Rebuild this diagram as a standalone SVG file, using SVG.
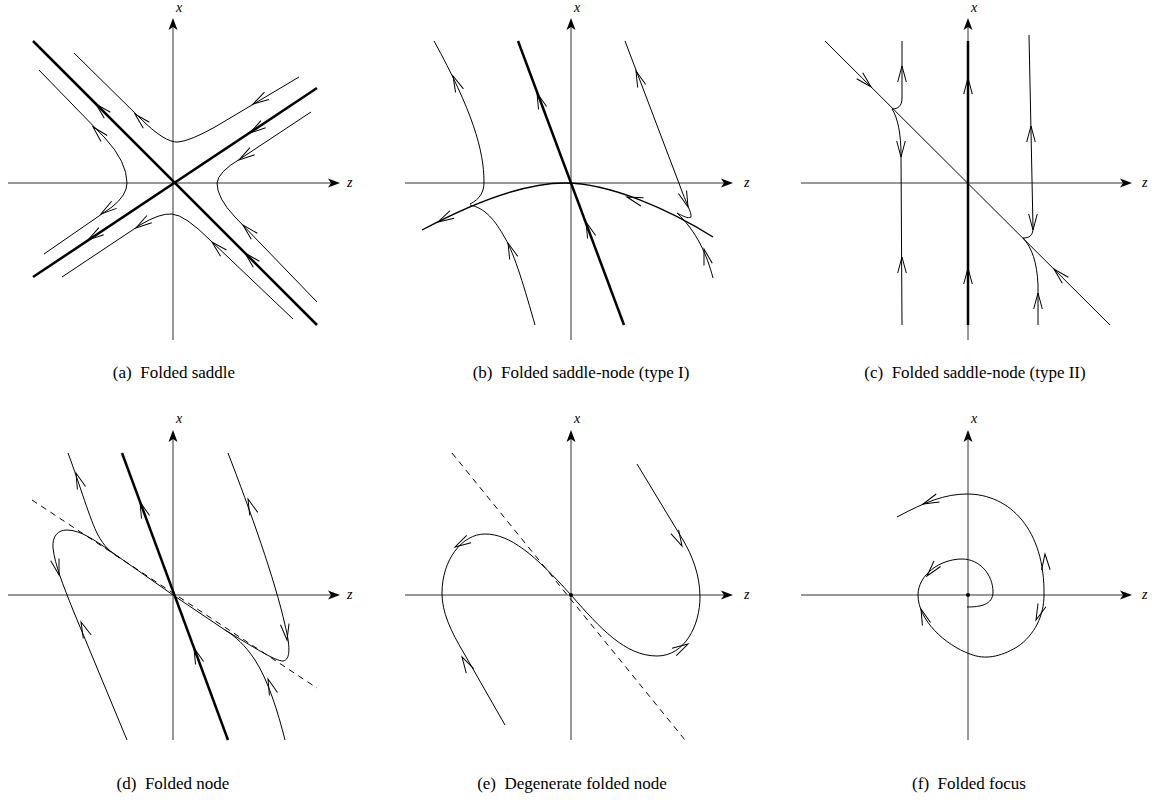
<svg xmlns="http://www.w3.org/2000/svg" xmlns:xlink="http://www.w3.org/1999/xlink" width="1162" height="810" viewBox="0 0 1162 810">
<style>
.ax{stroke:#333;stroke-width:1;fill:none}
.th{stroke:#000;stroke-width:2.5;fill:none;stroke-linecap:butt}
.tn{stroke:#000;stroke-width:1;fill:none}
.md{stroke:#000;stroke-width:1.4;fill:none}
.ds{stroke:#000;stroke-width:1;fill:none;stroke-dasharray:6,5}
.lab{font-family:"Liberation Serif","DejaVu Serif",serif;font-style:italic;font-size:14px;fill:#000}
.cap{font-family:"Liberation Serif","DejaVu Serif",serif;font-size:17px;fill:#000;text-anchor:middle}
</style>
<defs>
<path id="ah" d="M-16,-4.3 L0,0 L-16,4.3" fill="none" stroke="#000" stroke-width="1"/>
<path id="axh" d="M0,0 L-12,-4.5 L-9,0 L-12,4.5 Z" fill="#000"/>
</defs>

<g id="panel-a">
<g class="axes">
<line class="ax" x1="173" y1="340" x2="173" y2="22"/>
<line class="ax" x1="8" y1="183" x2="336" y2="183"/>
<use xlink:href="#axh" transform="translate(173,18) rotate(-90)"/>
<use xlink:href="#axh" transform="translate(340,183)"/>
<text class="lab" x="176" y="12">x</text>
<text class="lab" x="347" y="187">z</text>
</g>
<path class="th" d="M33,41 L317,325"/>
<path class="th" d="M33,277 L317,88"/>
<path class="tn" d="M74,53 L140,118 Q165,143 178,142 Q190,141 215,127 L299,77"/>
<path class="tn" d="M62,277 L140,225 Q160,213 172,214 Q185,215 210,240 L293,319"/>
<path class="tn" d="M39,70 L105,138 Q127,162 127,183 Q127,195 112,207 L44,254"/>
<path class="tn" d="M311,112 L240,159 Q218,172 217,183 Q217,198 235,217 L317,302"/>
<use xlink:href="#ah" transform="translate(96,104) rotate(-135)"/>
<use xlink:href="#ah" transform="translate(245,253) rotate(-135)"/>
<use xlink:href="#ah" transform="translate(250,133) rotate(146.4)"/>
<use xlink:href="#ah" transform="translate(88,240) rotate(146.4)"/>
<use xlink:href="#ah" transform="translate(135,114) rotate(-135)"/>
<use xlink:href="#ah" transform="translate(253,104) rotate(149)"/>
<use xlink:href="#ah" transform="translate(93,127) rotate(-134)"/>
<use xlink:href="#ah" transform="translate(101,214) rotate(145)"/>
<use xlink:href="#ah" transform="translate(239,160) rotate(146.5)"/>
<use xlink:href="#ah" transform="translate(243,225) rotate(-135)"/>
<use xlink:href="#ah" transform="translate(136,228) rotate(146.3)"/>
<use xlink:href="#ah" transform="translate(212,242) rotate(-136)"/>
<text class="cap" x="174" y="378">(a)&#160; Folded saddle</text>
</g>

<g id="panel-b">
<g class="axes">
<line class="ax" x1="571" y1="340" x2="571" y2="22"/>
<line class="ax" x1="405" y1="183" x2="729" y2="183"/>
<use xlink:href="#axh" transform="translate(571,18) rotate(-90)"/>
<use xlink:href="#axh" transform="translate(733,183)"/>
<text class="lab" x="574" y="12">x</text>
<text class="lab" x="744" y="187">z</text>
</g>
<path class="th" d="M518,41 L624,325"/>
<path class="md" d="M422,230 C452,214 515,183 565,183 C610,183 670,210 713,237"/>
<path class="tn" d="M470,204 C480,199 484,192 484,182 C484,150 472,110 434,41"/>
<path class="tn" d="M535,325 C525,290 515,255 505,238 C495,220 485,208 470,205"/>
<path class="tn" d="M625,41 L680,186 C686,203 692,213 691,217 C688,219 683,216 677,213"/>
<path class="tn" d="M713,278 C707,255 697,232 677,213"/>
<use xlink:href="#ah" transform="translate(537,93) rotate(-110.5)"/>
<use xlink:href="#ah" transform="translate(586,222) rotate(-110.5)"/>
<use xlink:href="#ah" transform="translate(438,222) rotate(152)"/>
<use xlink:href="#ah" transform="translate(627,197) rotate(-162)"/>
<use xlink:href="#ah" transform="translate(453,76) rotate(-114)"/>
<use xlink:href="#ah" transform="translate(508,243) rotate(-111)"/>
<use xlink:href="#ah" transform="translate(636,71) rotate(-110.8)"/>
<use xlink:href="#ah" transform="translate(688,207) rotate(70)"/>
<use xlink:href="#ah" transform="translate(704,249) rotate(-105)"/>
<text class="cap" x="581" y="378">(b)&#160; Folded saddle-node (type I)</text>
</g>

<g id="panel-c">
<g class="axes">
<line class="ax" x1="968" y1="340" x2="968" y2="22"/>
<line class="ax" x1="801" y1="183" x2="1128" y2="183"/>
<use xlink:href="#axh" transform="translate(968,18) rotate(-90)"/>
<use xlink:href="#axh" transform="translate(1132,183)"/>
<text class="lab" x="971" y="12">x</text>
<text class="lab" x="1142" y="187">z</text>
</g>
<path class="th" d="M968,41 L968,325"/>
<path class="tn" d="M825,41 L1110,325"/>
<path class="tn" d="M902,41 L902,98 C902,106 898,109 892,109"/>
<path class="tn" d="M892,109 C898,118 901,135 901,155 L902,325"/>
<path class="tn" d="M1029,35 L1033,228 C1033,236 1029,238 1023,238"/>
<path class="tn" d="M1023,238 C1032,248 1037,262 1038,285 L1038,325"/>
<use xlink:href="#ah" transform="translate(871,87) rotate(45)"/>
<use xlink:href="#ah" transform="translate(1054,269) rotate(-135)"/>
<use xlink:href="#ah" transform="translate(968,78) rotate(-90)"/>
<use xlink:href="#ah" transform="translate(968,268) rotate(-90)"/>
<use xlink:href="#ah" transform="translate(902,66) rotate(-90)"/>
<use xlink:href="#ah" transform="translate(901,157) rotate(90)"/>
<use xlink:href="#ah" transform="translate(902,257) rotate(-90)"/>
<use xlink:href="#ah" transform="translate(1031,126) rotate(-90)"/>
<use xlink:href="#ah" transform="translate(1033,230) rotate(90)"/>
<use xlink:href="#ah" transform="translate(1038,293) rotate(-90)"/>
<text class="cap" x="975" y="378">(c)&#160; Folded saddle-node (type II)</text>
</g>

<g id="panel-d">
<g class="axes">
<line class="ax" x1="173" y1="740" x2="173" y2="434"/>
<line class="ax" x1="8" y1="595" x2="336" y2="595"/>
<use xlink:href="#axh" transform="translate(173,430) rotate(-90)"/>
<use xlink:href="#axh" transform="translate(340,595)"/>
<text class="lab" x="176" y="423">x</text>
<text class="lab" x="347" y="599">z</text>
</g>
<path class="th" d="M122,453 L228,740"/>
<path class="ds" d="M32,500 L317,688"/>
<path class="tn" d="M127,740 L73,610 C63,585 55,565 53,548 C52,536 58,530 67,530 C80,530 95,540 113,553 L173,595"/>
<path class="tn" d="M68,453 C80,485 90,520 98,535 C104,546 110,552 120,558"/>
<path class="tn" d="M228,453 C250,510 275,580 285,625 C290,645 291,660 283,661 C275,661 255,648 225,630 L173,595"/>
<path class="tn" d="M285,740 C278,712 268,680 255,660 C245,645 235,636 225,630"/>
<use xlink:href="#ah" transform="translate(140,502) rotate(-110.3)"/>
<use xlink:href="#ah" transform="translate(194,648) rotate(-110.3)"/>
<use xlink:href="#ah" transform="translate(76,473) rotate(-110)"/>
<use xlink:href="#ah" transform="translate(59,575) rotate(75)"/>
<use xlink:href="#ah" transform="translate(81,622) rotate(-113)"/>
<use xlink:href="#ah" transform="translate(248,499) rotate(-111)"/>
<use xlink:href="#ah" transform="translate(287,640) rotate(82)"/>
<use xlink:href="#ah" transform="translate(268,679) rotate(-110)"/>
<text class="cap" x="173" y="789">(d)&#160; Folded node</text>
</g>

<g id="panel-e">
<g class="axes">
<line class="ax" x1="571" y1="740" x2="571" y2="434"/>
<line class="ax" x1="405" y1="595" x2="729" y2="595"/>
<use xlink:href="#axh" transform="translate(571,430) rotate(-90)"/>
<use xlink:href="#axh" transform="translate(733,595)"/>
<text class="lab" x="574" y="423">x</text>
<text class="lab" x="744" y="599">z</text>
</g>
<path class="ds" d="M452,453 L685,740"/>
<path class="tn" d="M505,725 L465,655 C450,630 442,612 442,593 C442,560 462,534 485,534 C510,534 535,555 571,595 C600,628 625,656 657,656 C685,656 700,625 700,597 C700,575 692,555 683,540 L637,464"/>
<circle cx="571" cy="595" r="2" fill="#000"/>
<use xlink:href="#ah" transform="translate(462,657) rotate(-120)"/>
<use xlink:href="#ah" transform="translate(455,547) rotate(150)"/>
<use xlink:href="#ah" transform="translate(688,644) rotate(-30)"/>
<use xlink:href="#ah" transform="translate(682,546) rotate(63)"/>
<text class="cap" x="572" y="789">(e)&#160; Degenerate folded node</text>
</g>

<g id="panel-f">
<g class="axes">
<line class="ax" x1="968" y1="740" x2="968" y2="434"/>
<line class="ax" x1="801" y1="595" x2="1128" y2="595"/>
<use xlink:href="#axh" transform="translate(968,430) rotate(-90)"/>
<use xlink:href="#axh" transform="translate(1132,595)"/>
<text class="lab" x="971" y="423">x</text>
<text class="lab" x="1142" y="599">z</text>
</g>
<path class="tn" d="M967,607 C980,607 993,605 993,592 C993,575 980,559 962,559 C940,559 918,575 918,595 C918,620 945,645 970,654 C985,660 1000,657 1017,647 C1035,635 1044,615 1044,595 C1045,530 1010,494 967,494 C945,494 925,502 897,517"/>
<circle cx="968" cy="595" r="2" fill="#000"/>
<use xlink:href="#ah" transform="translate(923,504) rotate(158)"/>
<use xlink:href="#ah" transform="translate(927,576) rotate(130)"/>
<use xlink:href="#ah" transform="translate(921,609) rotate(-110)"/>
<use xlink:href="#ah" transform="translate(1036,620) rotate(112)"/>
<use xlink:href="#ah" transform="translate(1045,554) rotate(-93)"/>
<text class="cap" x="969" y="789">(f)&#160; Folded focus</text>
</g>
</svg>
